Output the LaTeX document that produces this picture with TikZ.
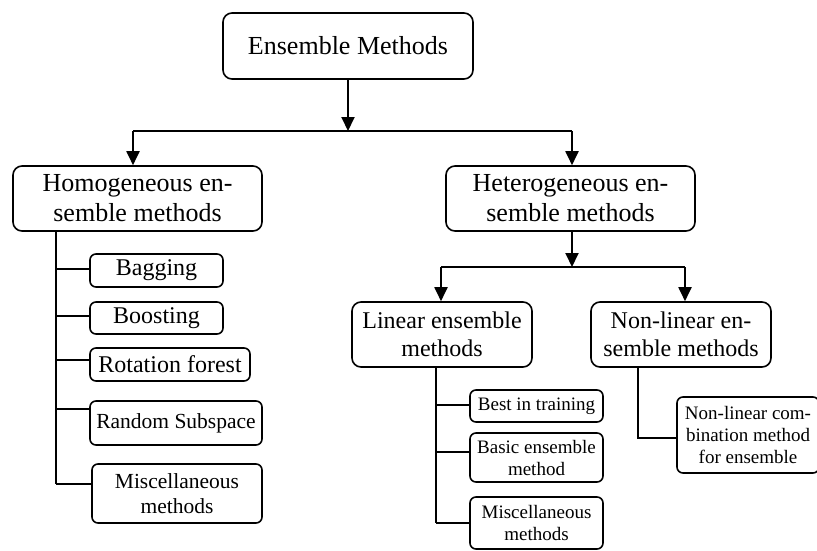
\documentclass[tikz,border=0pt]{standalone}
\usepackage{fontspec}
\setmainfont{Liberation Serif}
\usetikzlibrary{arrows.meta}

\tikzset{
  box/.style={draw=black, line width=1.6pt, rounded corners=9pt, fill=white,
    align=center, inner sep=0pt, text=black},
  smallbox/.style={box, rounded corners=6pt},
  big/.style={font=\fontsize{26}{30}\selectfont},
  mid/.style={font=\fontsize{24}{28}\selectfont},
  sub/.style={font=\fontsize{21.5}{25}\selectfont},
  tiny/.style={font=\fontsize{19}{22}\selectfont},
  link/.style={line width=1.9pt, black},
  arrow/.style={link, -{Triangle[length=14pt, width=13pt]}},
}

\begin{document}
\begin{tikzpicture}[x=1pt, y=-1pt]
\useasboundingbox (0,0) rectangle (817,550);

% top levels
\node[box, big, minimum width=250pt, minimum height=66pt] (root) at (348,46) {Ensemble Methods};
\node[box, big, minimum width=249pt, minimum height=65pt] (homog) at (137.5,198.5) {Homogeneous en-\\semble methods};
\node[box, big, minimum width=249pt, minimum height=65pt] (hetero) at (570.5,198.5) {Heterogeneous en-\\semble methods};
\node[box, mid, minimum width=180pt, minimum height=65pt] (linear) at (442,334.5) {Linear ensemble\\methods};
\node[box, mid, minimum width=180pt, minimum height=65pt] (nonlin) at (681,334.5) {Non-linear en-\\semble methods};

% homogeneous family
\node[smallbox, mid, minimum width=133pt, minimum height=33pt] (bag) at (156.5,270.5) {Bagging};
\node[smallbox, mid, minimum width=133pt, minimum height=32pt] (boost) at (156.5,318) {Boosting};
\node[smallbox, mid, minimum width=160pt, minimum height=33pt] (rot) at (170,364.5) {Rotation forest};
\node[smallbox, sub, minimum width=172pt, minimum height=44pt] (rand) at (176,423) {Random Subspace};
\node[smallbox, sub, minimum width=170pt, minimum height=59pt] (misca) at (177,493.5) {Miscellaneous\\methods};

% linear family
\node[smallbox, tiny, minimum width=133pt, minimum height=32pt] (best) at (536.5,406) {Best in training};
\node[smallbox, tiny, minimum width=133pt, minimum height=49pt] (basic) at (536.5,457.5) {Basic ensemble\\method};
\node[smallbox, tiny, minimum width=133pt, minimum height=52pt] (miscb) at (536.5,523) {Miscellaneous\\methods};

% non-linear family
\node[smallbox, tiny, minimum width=142pt, minimum height=76pt] (comb) at (748,435) {Non-linear com-\\bination method\\for ensemble};

% junction points
\coordinate (j0) at (348,131);
\coordinate (jl) at (133,131);
\coordinate (jr) at (572,131);
\coordinate (k0) at (572,267);
\coordinate (kl) at (441,267);
\coordinate (kr) at (685,267);
\coordinate (th) at (56,231);
\coordinate (tl) at (436,367);
\coordinate (tn) at (638,367);

% root split
\draw[arrow] (root.south -| j0) -- (j0);
\draw[link] (jl) -- (jr);
\draw[arrow] (jl) -- (jl |- homog.north);
\draw[arrow] (jr) -- (jr |- hetero.north);

% heterogeneous split
\draw[arrow] (hetero.south -| k0) -- (k0);
\draw[link] (kl) -- (kr);
\draw[arrow] (kl) -- (kl |- linear.north);
\draw[arrow] (kr) -- (kr |- nonlin.north);

% homogeneous tree
\draw[link] (th) -- (th |- 0,484);
\draw[link] (th |- 0,269) -- (bag.west |- 0,269);
\draw[link] (th |- 0,316) -- (boost.west |- 0,316);
\draw[link] (th |- 0,360) -- (rot.west |- 0,360);
\draw[link] (th |- 0,409) -- (rand.west |- 0,409);
\draw[link] (th |- 0,484) -- (misca.west |- 0,484);

% linear tree
\draw[link] (tl) -- (tl |- 0,523);
\draw[link] (tl |- 0,405) -- (best.west |- 0,405);
\draw[link] (tl |- 0,452) -- (basic.west |- 0,452);
\draw[link] (tl |- 0,523) -- (miscb.west |- 0,523);

% non-linear tree
\draw[link] (tn) |- (comb.west |- 0,438);
\end{tikzpicture}
\end{document}
